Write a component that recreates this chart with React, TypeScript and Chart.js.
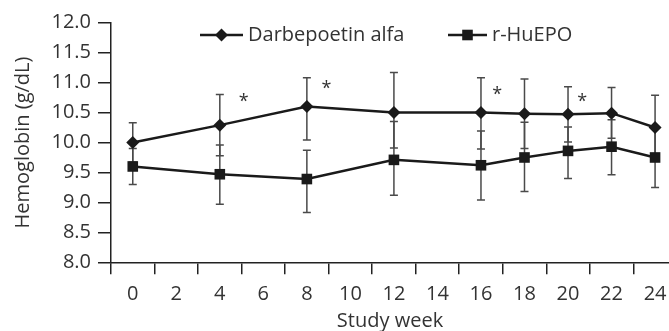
import React, { useEffect, useRef } from 'react';
import { Chart, registerables } from 'chart.js';

Chart.register(...registerables);

// ---- data ----
const weeks = [0, 4, 8, 12, 16, 18, 20, 22, 24];
const darbMean = [10.0, 10.29, 10.6, 10.5, 10.5, 10.48, 10.47, 10.49, 10.25];
const darbUpper = [10.33, 10.8, 11.08, 11.17, 11.08, 11.06, 10.93, 10.92, 10.79];
const darbLower = [9.67, 9.78, 10.04, 9.91, 9.89, 9.9, 10.01, 10.07, 9.71];
const epoMean = [9.6, 9.47, 9.39, 9.71, 9.62, 9.75, 9.86, 9.93, 9.75];
const epoUpper = [9.9, 9.96, 9.87, 10.35, 10.19, 10.34, 10.26, 10.38, 10.25];
const epoLower = [9.3, 8.97, 8.83, 9.12, 9.04, 9.18, 9.4, 9.46, 9.25];
const xLabelWeeks = [0, 2, 4, 6, 8, 10, 12, 14, 16, 18, 20, 22, 24];
const starWeeks = [5.1, 8.9, 16.75, 20.65];
const starValues = [10.78, 11.0, 10.89, 10.78];
const seriesNames = ['Darbepoetin alfa', 'r-HuEPO'];

const FONT = '"Open Sans", sans-serif';
const TEXT = '#333';
const INK = '#1a1a1a';

const errors = [
  { lower: darbLower, upper: darbUpper },
  { lower: epoLower, upper: epoUpper },
];

const errorBarPlugin = {
  id: 'errorBars',
  beforeDatasetsDraw(chart: any) {
    const { ctx, scales } = chart;
    const xs = scales.x;
    const ys = scales.y;
    ctx.save();
    ctx.strokeStyle = '#4a4a4a';
    ctx.lineWidth = 1.5;
    errors.forEach((e) => {
      weeks.forEach((w, i) => {
        const px = xs.getPixelForValue(w);
        const pu = ys.getPixelForValue(e.upper[i]);
        const pl = ys.getPixelForValue(e.lower[i]);
        ctx.beginPath();
        ctx.moveTo(px, pu);
        ctx.lineTo(px, pl);
        ctx.moveTo(px - 4, pu);
        ctx.lineTo(px + 4, pu);
        ctx.moveTo(px - 4, pl);
        ctx.lineTo(px + 4, pl);
        ctx.stroke();
      });
    });
    ctx.restore();
  },
};

const annotatePlugin = {
  id: 'annotate',
  afterDraw(chart: any) {
    const { ctx, scales } = chart;
    const xs = scales.x;
    const ys = scales.y;
    ctx.save();
    // asterisks
    ctx.fillStyle = TEXT;
    ctx.font = `18px ${FONT}`;
    ctx.textAlign = 'center';
    ctx.textBaseline = 'alphabetic';
    starWeeks.forEach((w, i) => {
      ctx.fillText('*', xs.getPixelForValue(w), ys.getPixelForValue(starValues[i]) + 11);
    });
    // legend
    const items = [
      { x0: 200, x1: 243, style: 'diamond', text: seriesNames[0] },
      { x0: 448, x1: 487, style: 'square', text: seriesNames[1] },
    ];
    const ly = 35;
    items.forEach((it) => {
      ctx.strokeStyle = INK;
      ctx.lineWidth = 2.5;
      ctx.beginPath();
      ctx.moveTo(it.x0, ly);
      ctx.lineTo(it.x1, ly);
      ctx.stroke();
      const cx = (it.x0 + it.x1) / 2;
      ctx.fillStyle = INK;
      ctx.beginPath();
      if (it.style === 'diamond') {
        ctx.moveTo(cx, ly - 6.5);
        ctx.lineTo(cx + 6.5, ly);
        ctx.lineTo(cx, ly + 6.5);
        ctx.lineTo(cx - 6.5, ly);
        ctx.closePath();
      } else {
        ctx.rect(cx - 5.3, ly - 5.3, 10.6, 10.6);
      }
      ctx.fill();
      ctx.fillStyle = TEXT;
      ctx.font = `20px ${FONT}`;
      ctx.textAlign = 'left';
      ctx.textBaseline = 'middle';
      ctx.fillText(it.text, it.x1 + 5, ly);
    });
    ctx.restore();
  },
};

export default function App() {
  const ref = useRef<HTMLCanvasElement | null>(null);

  useEffect(() => {
    if (!ref.current) return;
    const chart = new Chart(ref.current, {
      type: 'line',
      data: {
        datasets: [
          {
            label: seriesNames[0],
            data: weeks.map((w, i) => ({ x: w, y: darbMean[i] })),
            borderColor: INK,
            borderWidth: 2.5,
            pointStyle: 'rectRot',
            pointRadius: 6.5,
            pointBorderWidth: 0,
            pointBackgroundColor: INK,
            tension: 0,
            clip: false,
          },
          {
            label: seriesNames[1],
            data: weeks.map((w, i) => ({ x: w, y: epoMean[i] })),
            borderColor: INK,
            borderWidth: 2.5,
            pointStyle: 'rect',
            pointRadius: 7.5,
            pointBorderWidth: 0,
            pointBackgroundColor: INK,
            tension: 0,
            clip: false,
          },
        ],
      },
      options: {
        responsive: false,
        animation: false,
        layout: { autoPadding: false, padding: { top: 22.7, left: 0, right: 0, bottom: 0 } },
        plugins: {
          legend: { display: false },
          tooltip: { enabled: false },
        },
        scales: {
          x: {
            type: 'linear',
            bounds: 'data',
            min: -1,
            max: 24.64,
            ticks: {
              stepSize: 1,
              autoSkip: false,
              includeBounds: false,
              maxRotation: 0,
              padding: 8,
              color: TEXT,
              font: { family: FONT, size: 20 },
              callback: (v: any) => (xLabelWeeks.includes(Number(v)) ? String(v) : ''),
            },
            grid: {
              drawOnChartArea: false,
              drawTicks: true,
              tickLength: 12,
              lineWidth: 1.5,
              color: (c: any) =>
                c.tick && Math.abs(Math.round(c.tick.value)) % 2 === 1 ? '#222' : 'rgba(0,0,0,0)',
            },
            border: { display: true, color: '#222', width: 1.5 },
            title: {
              display: true,
              text: 'Study week',
              color: TEXT,
              font: { family: FONT, size: 20, lineHeight: 1 },
              padding: { top: 0, bottom: 0 },
            },
            afterFit: (s: any) => {
              s.height = 68.7;
              s.paddingLeft = 0;
              s.paddingRight = 0;
            },
          },
          y: {
            min: 8,
            max: 12,
            ticks: {
              stepSize: 0.5,
              padding: 7,
              color: TEXT,
              font: { family: FONT, size: 20 },
              callback: (v: any) => Number(v).toFixed(1),
            },
            grid: {
              drawOnChartArea: false,
              tickLength: 13,
              lineWidth: 1.5,
              color: '#222',
            },
            border: { display: true, color: '#222', width: 1.5 },
            title: {
              display: true,
              text: 'Hemoglobin (g/dL)',
              color: TEXT,
              font: { family: FONT, size: 20, lineHeight: 1 },
              padding: { top: 13, bottom: 0 },
            },
            afterFit: (s: any) => {
              s.width = 111;
              s.paddingTop = 0;
              s.paddingBottom = 0;
            },
          },
        },
      } as any,
      plugins: [errorBarPlugin, annotatePlugin],
    });
    return () => chart.destroy();
  }, []);

  return (
    <div style={{ position: 'absolute', left: 0, top: 0, width: 669, height: 331, background: '#fff' }}>
      <canvas ref={ref} width={669} height={331} style={{ display: 'block' }} />
    </div>
  );
}
